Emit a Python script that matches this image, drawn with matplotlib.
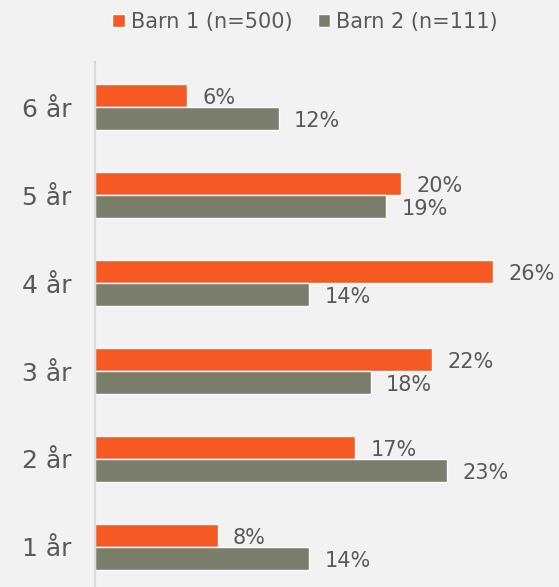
import matplotlib
matplotlib.use('Agg')
from matplotlib import pyplot as plt
import numpy as np

# data
kategorier = ['1 år', '2 år', '3 år', '4 år', '5 år', '6 år']
barn1 = [8, 17, 22, 26, 20, 6]
barn2 = [14, 23, 18, 14, 19, 12]
serier = ['Barn 1 (n=500)', 'Barn 2 (n=111)']

orange = '#F55A25'
gra = '#7A7D6B'
bg = '#F2F2F2'
textfarg = '#595959'

fig = plt.figure(figsize=(5.59, 5.87), dpi=100, facecolor=bg)
ax = fig.add_axes([95/559, 0, 1 - 95/559, 1 - 62/587], facecolor=bg)

y = np.arange(1, len(kategorier) + 1)
h = 0.26
b1 = ax.barh(y + h/2, barn1, height=h, color=orange, edgecolor='white', linewidth=1, label=serier[0])
b2 = ax.barh(y - h/2, barn2, height=h, color=gra, edgecolor='white', linewidth=1, label=serier[1])

for bars, vals in ((b1, barn1), (b2, barn2)):
    for rect, v in zip(bars, vals):
        ax.text(rect.get_width() + 1.0, rect.get_y() + rect.get_height()/2 - 0.03, f'{v}%',
                ha='left', va='center', fontsize=15, color=textfarg)

ax.set_xlim(0, 30.3)
ax.set_ylim(1 - 40/88, 6 + 45/88)
ax.set_yticks(y)
ax.set_yticklabels(kategorier, fontsize=18, color=textfarg)
ax.tick_params(axis='y', length=0, pad=17)
ax.set_xticks([])
for s in ['top', 'right', 'bottom']:
    ax.spines[s].set_visible(False)
ax.spines['left'].set_color('#D9D9D9')
ax.spines['left'].set_linewidth(1.5)

fig.legend(handles=[b1, b2], labels=serier, loc='center', bbox_to_anchor=(305/559, 1 - 22/587),
           ncol=2, frameon=False, fontsize=15, labelcolor=textfarg,
           handlelength=0.6, handleheight=0.6, handletextpad=0.3, columnspacing=1.2)

fig.savefig('out.png', dpi=100, facecolor=bg)
